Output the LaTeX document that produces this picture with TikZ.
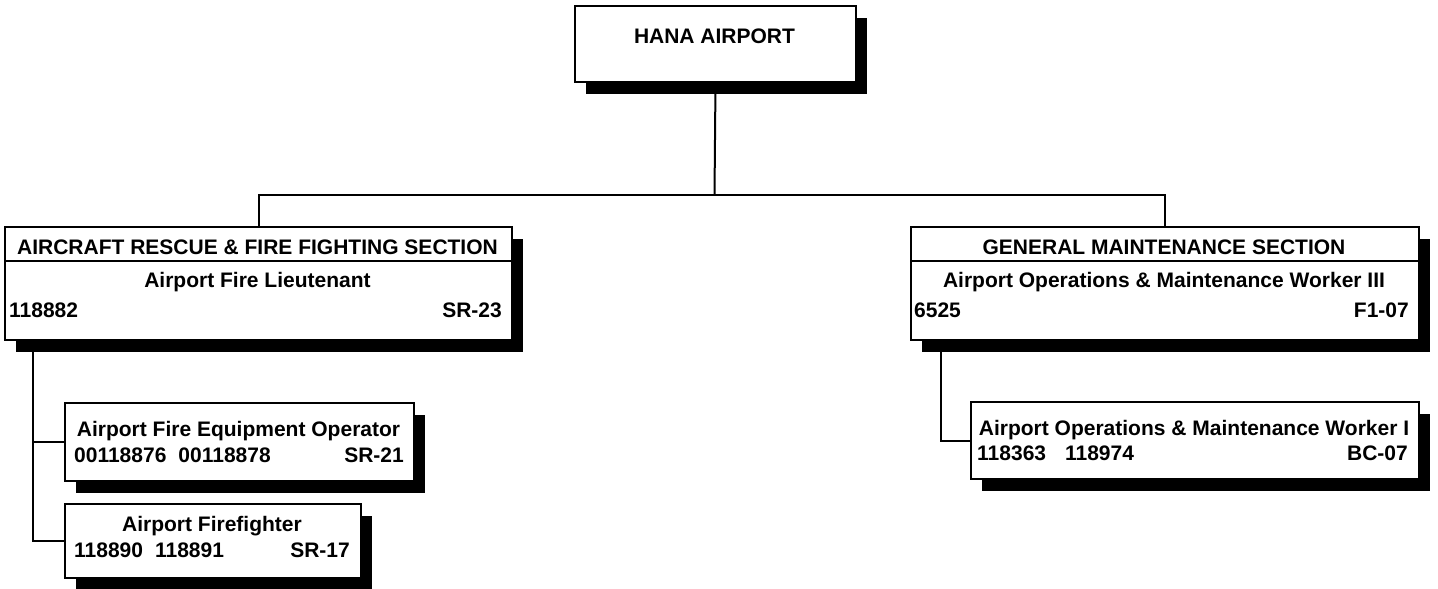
\documentclass[tikz,border=0pt]{standalone}
\usepackage{fontspec}
\setmainfont{Liberation Sans}
\usetikzlibrary{shadows}
\tikzset{
  box/.style={draw, line width=2pt, fill=white, inner sep=0pt, anchor=north west,
    general shadow={fill=black, shadow xshift=11pt, shadow yshift=-12pt}},
  lbl/.style={font=\bfseries\fontsize{21}{25}\selectfont, inner sep=0pt, anchor=base},
  lbll/.style={lbl, anchor=base west},
  lblr/.style={lbl, anchor=base east},
  conn/.style={line width=2pt},
  divider/.style={line width=2pt},
}
\begin{document}
\begin{tikzpicture}[x=1pt,y=-1pt]
\useasboundingbox (0,0) rectangle (1438,589);

% top
\node[box, minimum width=281pt, minimum height=76pt] (top) at (574,5) {};
\node[lbl] (topt) at (714.5,43) {HANA AIRPORT};

% left section
\node[box, minimum width=507pt, minimum height=113pt] (secL) at (4,226) {};
\draw[divider] (secL.north west) ++(0,35) -- ++(507,0);
\node[lbl] (secLh) at (257.5,254) {AIRCRAFT RESCUE \& FIRE FIGHTING SECTION};
\node[lbl] (secLt) at (257.5,287) {Airport Fire Lieutenant};
\node[lbll] (secLn) at (9,317) {118882};
\node[lblr] (secLg) at (502,317) {SR-23};

% right section
\node[box, minimum width=508pt, minimum height=113pt] (secR) at (910,226) {};
\draw[divider] (secR.north west) ++(0,35) -- ++(508,0);
\node[lbl] (secRh) at (1164,254) {GENERAL MAINTENANCE SECTION};
\node[lbl] (secRt) at (1164,287) {Airport Operations \& Maintenance Worker III};
\node[lbll] (secRn) at (914,317) {6525};
\node[lblr] (secRg) at (1409,317) {F1-07};

% equipment operator
\node[box, minimum width=349pt, minimum height=78pt] (eq) at (64,402) {};
\node[lbl] (eqt) at (238.5,436) {Airport Fire Equipment Operator};
\node[lbll] (eqn) at (74,462) {00118876\hspace{12pt}00118878};
\node[lblr] (eqg) at (404,462) {SR-21};

% firefighter
\node[box, minimum width=296pt, minimum height=74pt] (ff) at (64,503) {};
\node[lbl] (fft) at (212,531) {Airport Firefighter};
\node[lbll] (ffn) at (74,557) {118890\hspace{12pt}118891};
\node[lblr] (ffg) at (350,557) {SR-17};

% ops worker I
\node[box, minimum width=448pt, minimum height=77pt] (ow) at (970,401) {};
\node[lbl] (owt) at (1194,435) {Airport Operations \& Maintenance Worker I};
\node[lbll] (own) at (977,460) {118363\hspace{19pt}118974};
\node[lblr] (owg) at (1408,460) {BC-07};

% connectors
\coordinate (jm) at (714.5,195);
\coordinate (bl) at (33,339);
\coordinate (br) at (941,339);
\draw[conn] (top.south) -- (jm);
\draw[conn] (secL.north) |- (jm) -| (secR.north);
\draw[conn] (bl) |- (eq.west);
\draw[conn] (bl) |- (ff.west);
\draw[conn] (br) |- (ow.west);
\end{tikzpicture}
\end{document}
